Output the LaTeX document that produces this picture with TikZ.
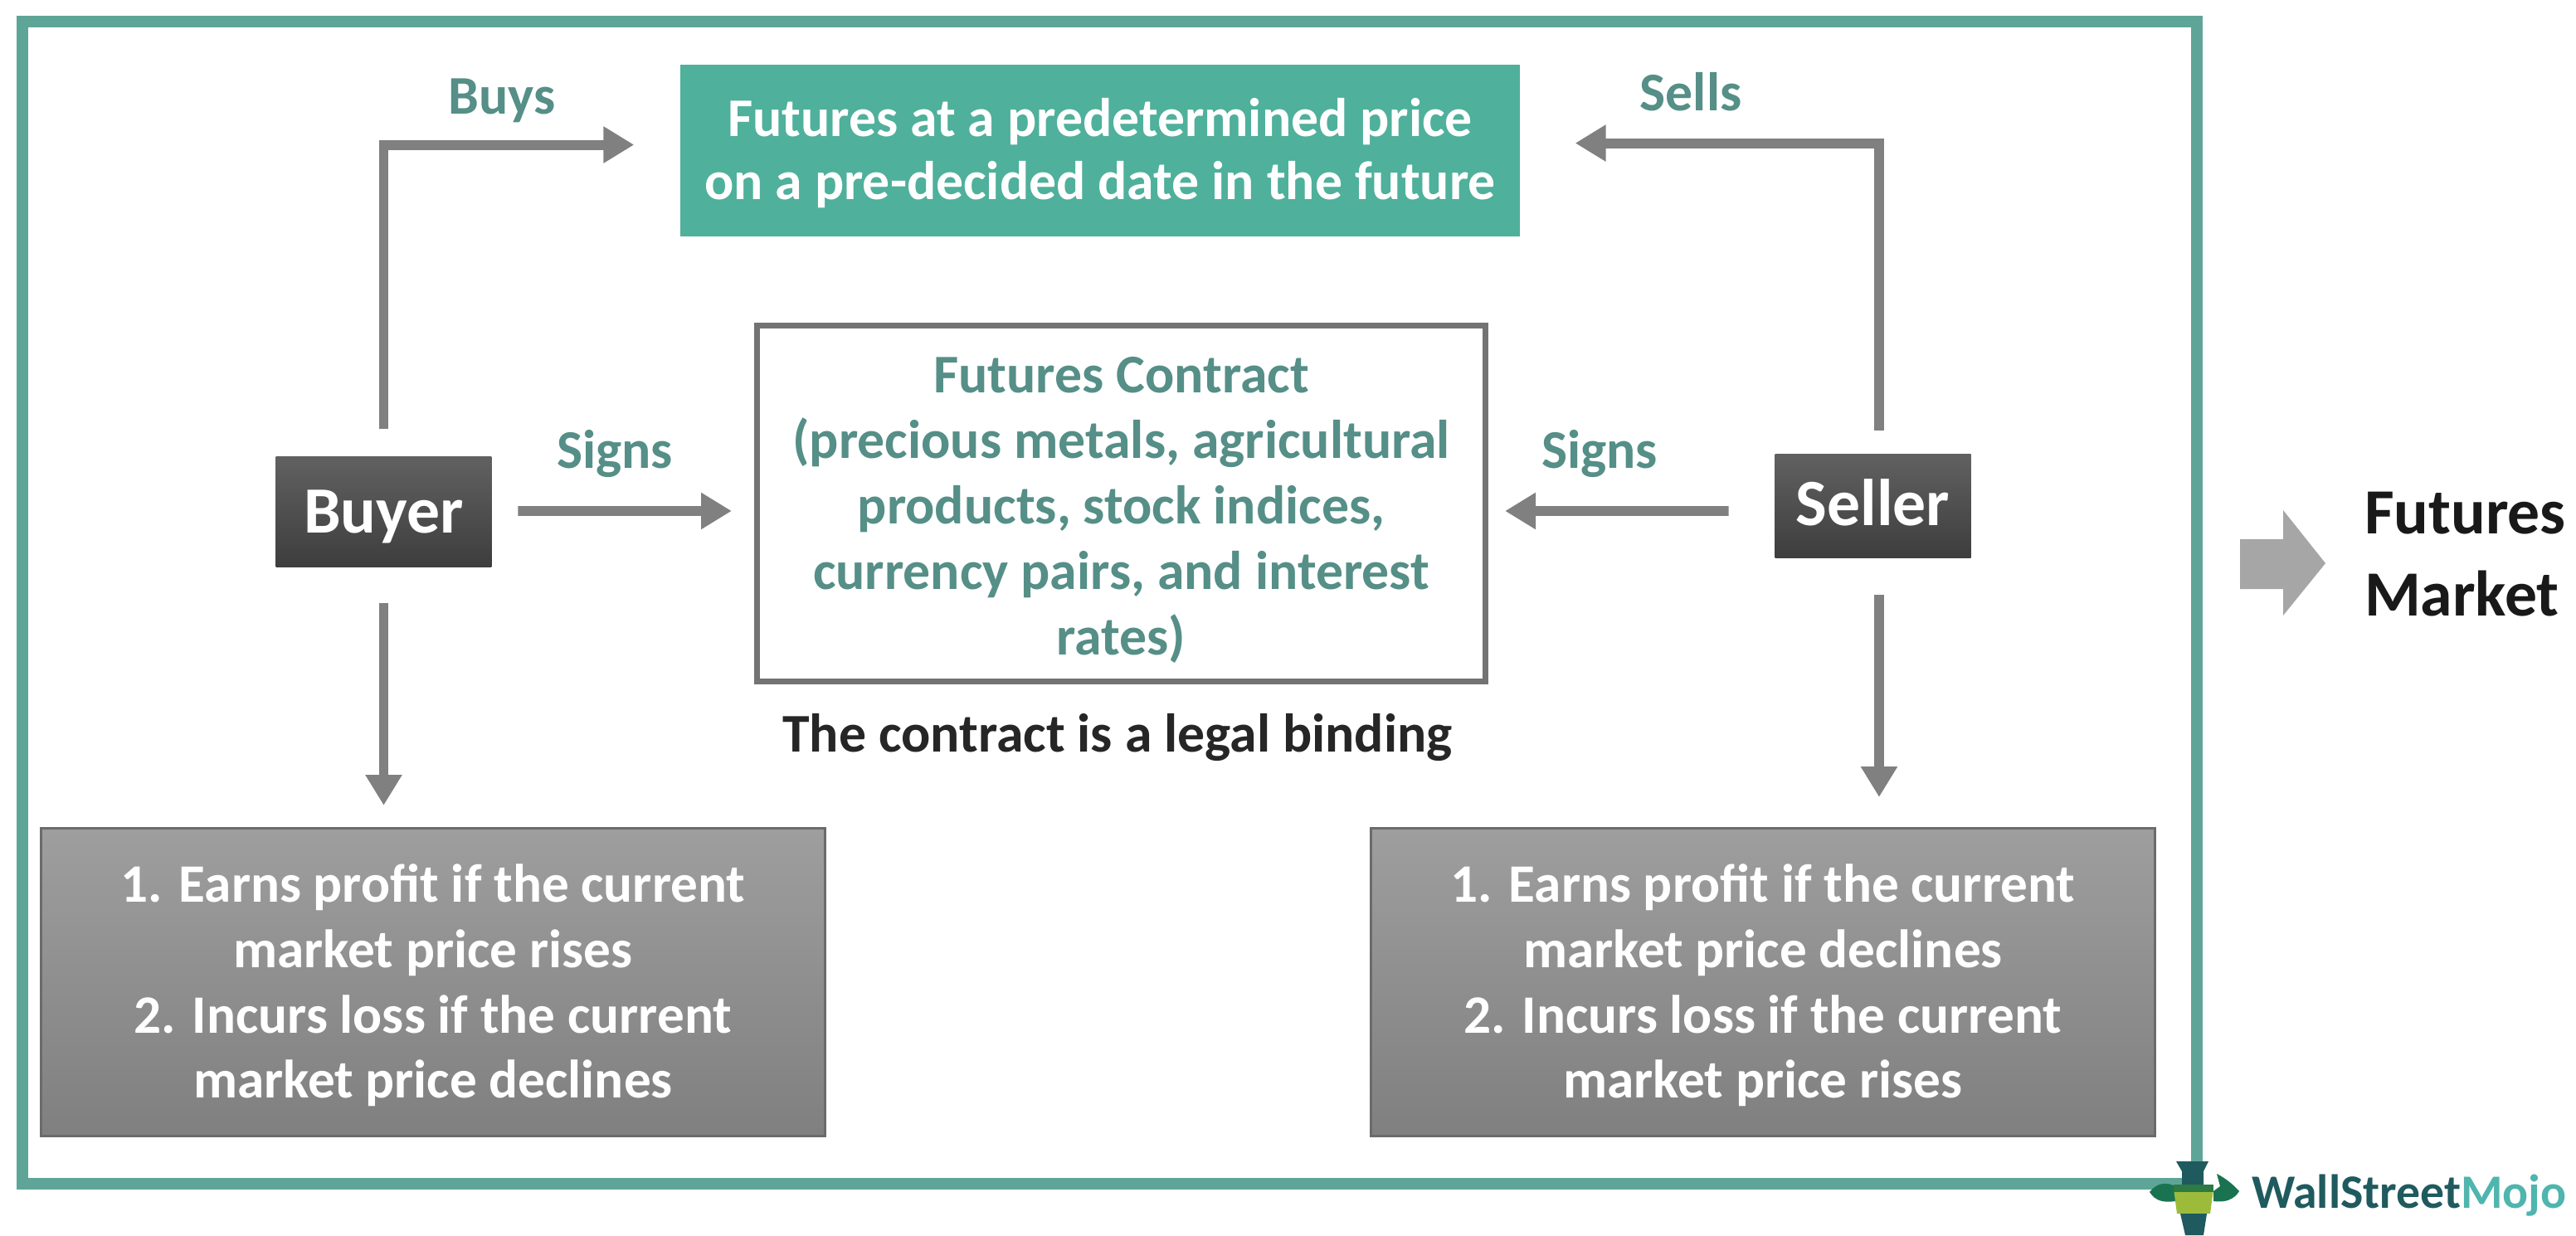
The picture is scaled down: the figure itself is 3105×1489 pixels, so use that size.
\documentclass[tikz,border=0pt]{standalone}
\usepackage{fontspec}
\setmainfont{Carlito}[BoldFont={Carlito Bold}]
\usetikzlibrary{arrows.meta}
\definecolor{frameteal}{HTML}{5FA597}
\definecolor{boxteal}{HTML}{4FB09B}
\definecolor{labelteal}{HTML}{558F87}
\definecolor{arrowgray}{HTML}{808080}
\definecolor{logodark}{HTML}{1F5A5E}
\definecolor{logoteal}{HTML}{4FB5AE}
\definecolor{logogreen}{HTML}{9DBB3A}
\definecolor{logoband}{HTML}{2E7A45}
\newdimen\PX \PX=0.5669pt
\newcommand{\fsz}[2]{\fontsize{\dimexpr#1\PX\relax}{\dimexpr#2\PX\relax}\selectfont\bfseries}
\tikzset{
 x=0.02cm,y=-0.02cm,
 flow/.style={draw=arrowgray,line width=12*0.5669pt,-{Triangle[length=37*0.5669pt,width=42*0.5669pt]}},
 base/.style={inner sep=0,outer sep=0,align=center,anchor=center},
 darkbox/.style={base,minimum width=261*0.5669pt,minimum height=134*0.5669pt,top color=black!62,bottom color=black!76,text=white,font=\fsz{80}{80}},
 resultbox/.style={base,minimum width=948*0.5669pt,minimum height=372*0.5669pt,top color=black!38,bottom color=black!50,draw=black!58,line width=3*0.5669pt,text=white,font=\fsz{65.5}{79}},
 lbl/.style={base,text=labelteal,font=\fsz{66}{80}},
}
\begin{document}
\begin{tikzpicture}
\useasboundingbox (0,0) rectangle (3105,1489);
\fill[white] (0,0) rectangle (3105,1489);
% frame
\draw[frameteal,line width=14*0.5669pt] (27,26) rectangle (2648,1427);
% nodes
\node[base,fill=boxteal,minimum width=1016*0.5669pt,minimum height=207*0.5669pt] (fut) at (1326,181.5) {};
\node[base,text=white,font=\fsz{66}{76}] (futText) at (1326,184.5) {Futures at a predetermined price\\on a pre-decided date in the future};
\node[base,draw=black!55,line width=7*0.5669pt,minimum width=881*0.5669pt,minimum height=430*0.5669pt] (contract) at (1351.5,607) {};
\node[base,text=labelteal,font=\fsz{66}{79.5}] (contractText) at (1351.5,615) {Futures Contract\\(precious metals, agricultural\\products, stock indices,\\currency pairs, and interest\\rates)};
\node[base,text=black!85,font=\fsz{66}{80}] (legal) at (1347,889) {The contract is a legal binding};
\node[darkbox] (buyer) at (462.5,617) {};
\node[base,text=white,font=\fsz{80}{80}] (buyerText) at (462.5,623) {Buyer};
\node[darkbox,minimum width=237*0.5669pt,minimum height=126*0.5669pt] (seller) at (2257.5,610) {};
\node[base,text=white,font=\fsz{80}{80}] (sellerText) at (2257.5,606) {Seller};
\node[resultbox] (left) at (522,1184) {};
\node[base,text=white,font=\fsz{65.5}{79}] (leftText) at (522,1188) {1. Earns profit if the current\\market price rises\\2. Incurs loss if the current\\market price declines};
\node[resultbox] (right) at (2125,1184) {};
\node[base,text=white,font=\fsz{65.5}{79}] (rightText) at (2125,1188) {1. Earns profit if the current\\market price declines\\2. Incurs loss if the current\\market price rises};
\node[lbl] (buys) at (605,121) {Buys};
\node[lbl] (sells) at (2038,111) {Sells};
\node[lbl] (signsl) at (741,547) {Signs};
\node[lbl] (signsr) at (1928,547) {Signs};
\node[base,align=left,anchor=west,text=black!90,font=\fsz{78}{99}] (market) at (2850,668) {Futures\\Market};
% connectors
\draw[flow,shorten <=33*0.5669pt,shorten >=56*0.5669pt] (buyer.north) |- ([yshift=7*0.5669pt]fut.west);
\draw[flow,shorten <=28*0.5669pt,shorten >=67*0.5669pt] ([xshift=7.5*0.5669pt]seller.north) |- ([yshift=9*0.5669pt]fut.east);
\draw[flow,shorten <=32*0.5669pt,shorten >=31*0.5669pt] ([yshift=1*0.5669pt]buyer.east) -- ([yshift=-9*0.5669pt]contract.west);
\draw[flow,shorten >=24*0.5669pt] ([xshift=-56*0.5669pt,yshift=-6*0.5669pt]seller.west) -- ([yshift=-9*0.5669pt]contract.east);
\draw[flow,shorten <=43*0.5669pt,shorten >=28*0.5669pt] (buyer.south) -- (buyer.south |- left.north);
\draw[flow,shorten <=44*0.5669pt,shorten >=38*0.5669pt] ([xshift=7.5*0.5669pt]seller.south) -- ([xshift=7.5*0.5669pt]seller.south |- right.north);
% block arrow beside the frame
\fill[black!35] (2700,650) -- (2752,650) -- (2752,615) -- (2803,679) -- (2752,742) -- (2752,710) -- (2700,710) -- cycle;
% logo
\fill[logodark] (2623,1400) -- (2662,1400) -- (2656,1412) -- (2656,1430) -- (2630,1430) -- (2630,1412) -- cycle;
\fill[logodark!85!green] (2591,1437) .. controls (2600,1425) and (2612,1425) .. (2622,1430) -- (2622,1448) .. controls (2608,1450) and (2598,1448) .. (2591,1437) -- cycle;
\fill[logodark!85!green] (2699,1436) .. controls (2692,1428) and (2682,1420) .. (2672,1415) -- (2676,1430) -- (2668,1436) -- (2668,1448) .. controls (2682,1450) and (2693,1446) .. (2699,1436) -- cycle;
\fill[logogreen] (2620,1433) -- (2668,1433) -- (2664,1463) -- (2624,1463) -- cycle;
\fill[logoband] (2620,1428) -- (2668,1428) -- (2668,1437) -- (2620,1437) -- cycle;
\fill[logodark] (2628,1463) -- (2660,1463) -- (2656,1489) -- (2634,1489) -- cycle;
\node[base,anchor=west,font=\fsz{58}{58}] (logo) at (2714,1441) {\textcolor{logodark}{WallStreet}\textcolor{logoteal}{Mojo}};
\end{tikzpicture}
\end{document}
